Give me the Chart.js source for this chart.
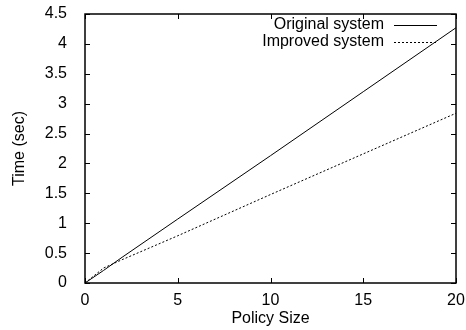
<!DOCTYPE html>
<html>
<head>
<meta charset="utf-8">
<script src="https://cdn.jsdelivr.net/npm/chart.js@4/dist/chart.umd.min.js"></script>
<style>
  html, body { margin: 0; padding: 0; background: #fff; }
  #wrap { width: 466px; height: 330px; }
</style>
</head>
<body>
<div id="wrap"><canvas id="policy_chart"></canvas></div>
<script>
"use strict";

const policySizes = [0, 1, 2, 5, 10, 15, 20];
const originalTimes = [0, 0.21, 0.43, 1.07, 2.13, 3.2, 4.27];
const improvedTimes = [0, 0.25, 0.39, 0.79, 1.48, 2.16, 2.84];
const seriesNames = ["Original system", "Improved system"];
const xTicks = [0, 5, 10, 15, 20];
const yTicks = [0, 0.5, 1, 1.5, 2, 2.5, 3, 3.5, 4, 4.5];

const FONT = "'Liberation Sans', Arial, sans-serif";

// gnuplot style frame with inward ticks on all sides
const frameTicks = {
    id: "frameTicks",
    afterDatasetsDraw(chart) {
        const { ctx, chartArea: a, scales } = chart;
        ctx.save();
        ctx.strokeStyle = "#000";
        ctx.lineWidth = 1;
        ctx.beginPath();
        for (const v of xTicks) {
            const px = Math.round(scales.x.getPixelForValue(v)) + 0.5;
            ctx.moveTo(px, a.bottom);
            ctx.lineTo(px, a.bottom - 5);
            ctx.moveTo(px, a.top);
            ctx.lineTo(px, a.top + 5);
        }
        for (const v of yTicks) {
            const py = Math.round(scales.y.getPixelForValue(v)) + 0.5;
            ctx.moveTo(a.left, py);
            ctx.lineTo(a.left + 5, py);
            ctx.moveTo(a.right, py);
            ctx.lineTo(a.right - 5, py);
        }
        ctx.stroke();
        ctx.lineWidth = 1.5;
        ctx.strokeRect(a.left, a.top, a.right - a.left, a.bottom - a.top);

        // legend: text right aligned, sample on the right
        ctx.font = "16px " + FONT;
        ctx.textAlign = "right";
        ctx.textBaseline = "middle";
        ctx.fillStyle = "#000";
        chart.data.datasets.forEach((ds, i) => {
            const y = a.top + 11 + i * 17;
            ctx.fillText(ds.label, a.right - 72, y);
            ctx.beginPath();
            ctx.lineWidth = 1;
            ctx.setLineDash(ds.borderDash || []);
            ctx.moveTo(a.right - 62, Math.round(y) + 0.5);
            ctx.lineTo(a.right - 19, Math.round(y) + 0.5);
            ctx.stroke();
            ctx.setLineDash([]);
        });
        ctx.restore();
    },
};

new Chart(document.getElementById("policy_chart"), {
    type: "line",
    data: {
        datasets: [
            {
                label: seriesNames[0],
                data: policySizes.map((x, i) => ({ x: x, y: originalTimes[i] })),
                borderColor: "#000",
                borderWidth: 1,
                pointRadius: 0,
                tension: 0,
            },
            {
                label: seriesNames[1],
                data: policySizes.map((x, i) => ({ x: x, y: improvedTimes[i] })),
                borderColor: "#000",
                borderWidth: 1,
                borderDash: [2, 2],
                pointRadius: 0,
                tension: 0,
            },
        ],
    },
    options: {
        responsive: true,
        maintainAspectRatio: false,
        animation: false,
        layout: { padding: { top: 14, right: 10, left: 0, bottom: 0 } },
        plugins: {
            legend: { display: false },
            tooltip: { enabled: false },
        },
        scales: {
            x: {
                type: "linear",
                min: 0,
                max: 20,
                afterBuildTicks: (s) => { s.ticks = xTicks.map((v) => ({ value: v })); },
                afterFit: (s) => {
                    s.height = 47;
                    s.paddingLeft = 0;
                    s.paddingRight = 0;
                },
                grid: { display: false },
                border: { display: false },
                ticks: {
                    color: "#000",
                    font: { family: FONT, size: 16 },
                    padding: 0,
                    maxRotation: 0,
                    callback: (v) => String(v),
                },
                title: {
                    display: true,
                    text: "Policy Size",
                    color: "#000",
                    font: { family: FONT, size: 16 },
                    padding: { top: 0, bottom: 2 },
                },
            },
            y: {
                min: 0,
                max: 4.5,
                afterBuildTicks: (s) => { s.ticks = yTicks.map((v) => ({ value: v })); },
                afterFit: (s) => {
                    s.width = 85;
                    s.paddingTop = 0;
                    s.paddingBottom = 0;
                },
                grid: { display: false },
                border: { display: false },
                ticks: {
                    color: "#000",
                    font: { family: FONT, size: 16 },
                    padding: 10,
                    callback: (v) => String(v),
                },
                title: {
                    display: true,
                    text: "Time (sec)",
                    color: "#000",
                    font: { family: FONT, size: 16 },
                    padding: { top: 10, bottom: 0 },
                },
            },
        },
    },
    plugins: [frameTicks],
});
</script>
</body>
</html>
